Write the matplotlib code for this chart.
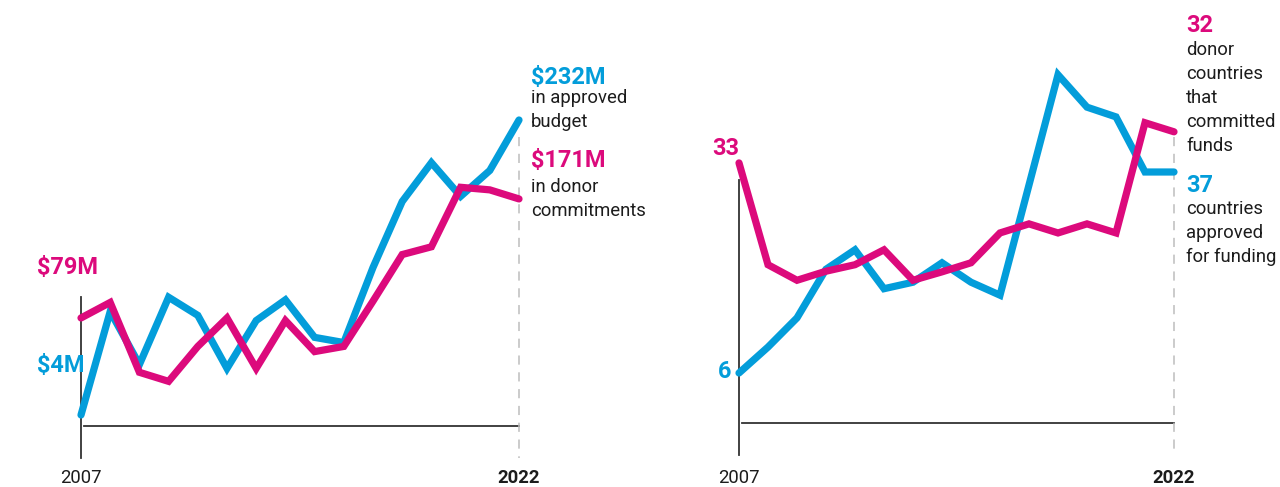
import matplotlib
matplotlib.use("Agg")
import matplotlib.pyplot as plt
from matplotlib.transforms import IdentityTransform

plt.rcParams["font.family"] = ["Roboto", "DejaVu Sans"]

# ---- data -------------------------------------------------------------
years = list(range(2007, 2023))

# left panel: money (US$ millions)
approved_budget = [4, 84, 43, 95, 81, 40, 77, 93, 64, 60, 118, 169, 199, 173, 193, 232]
donor_commitments = [79, 91, 37, 30, 57, 79, 40, 77, 53, 57, 92, 128, 134, 180, 178, 171]

# right panel: number of countries
countries_approved = [6, 10, 14.5, 22, 25, 19, 20, 23, 20, 18, 35, 52, 47, 45.5, 37, 37]
donor_countries = [38.4, 22.7, 20.3, 21.7, 22.7, 25.0, 20.3, 21.6, 23.0, 27.6,
                   29.0, 27.6, 29.0, 27.6, 44.6, 43.2]
donor_countries_first, donor_countries_last = 33, 32

BLUE = "#039DDA"
MAGENTA = "#DC0A7C"
INK = "#1c1c1c"
AXIS = "#333333"
GUIDE = "#bdbdbd"

W, H = 1280, 487
fig = plt.figure(figsize=(W / 100, H / 100), dpi=100)
fig.patch.set_facecolor("white")


def make_axes(x0_px, x1_px, ref_lo, ref_hi, lo_px, hi_px, top_px=20, bot_px=480):
    """Axes spanning x0..x1 pixels, y scaled so ref_lo sits at lo_px and ref_hi at hi_px."""
    k = (lo_px - hi_px) / (ref_hi - ref_lo)
    ax = fig.add_axes([x0_px / W, 1 - bot_px / H, (x1_px - x0_px) / W, (bot_px - top_px) / H])
    ax.set_xlim(years[0], years[-1])
    ax.set_ylim(ref_lo - (bot_px - lo_px) / k, ref_lo + (lo_px - top_px) / k)
    ax.axis("off")
    to_val = lambda px: ref_lo + (lo_px - px) / k
    return ax, to_val


def frame(ax, to_val, vtop, base, vbot, dash_top):
    ax.plot([years[0], years[0]], [to_val(vtop), to_val(vbot)], color=AXIS, lw=1.3,
            clip_on=False, zorder=1)
    ax.plot([years[0] + 0.1, years[-1]], [to_val(base), to_val(base)], color=AXIS, lw=1.3,
            clip_on=False, zorder=1)
    ax.plot([years[-1], years[-1]], [to_val(dash_top), to_val(vbot)], color=GUIDE, lw=1.1,
            dashes=(6, 5), clip_on=False, zorder=1)


def series(ax, vals, color, z):
    ax.plot(years, vals, color=color, lw=5.2, solid_capstyle="round",
            solid_joinstyle="miter", clip_on=False, zorder=z)


def label(x, y, s, color=INK, size=13.35, weight="normal", ha="left"):
    fig.text(x, H - y, s, transform=IdentityTransform(), color=color, fontsize=size,
             fontweight=weight, ha=ha, va="baseline")


BIG = 16.9

# ---- left panel -------------------------------------------------------
axL, valL = make_axes(81, 519, min(approved_budget), max(approved_budget), 415, 120)
frame(axL, valL, 297, 426, 458, 137)
series(axL, approved_budget, BLUE, 3)
series(axL, donor_commitments, MAGENTA, 4)

label(37, 274, f"${donor_commitments[0]}M", MAGENTA, BIG, "bold")
label(37, 372, f"${approved_budget[0]}M", BLUE, BIG, "bold")
label(531, 84, f"${approved_budget[-1]}M", BLUE, BIG, "bold")
for i, line in enumerate(["in approved", "budget"]):
    label(531, 103 + 24 * i, line)
label(531, 167, f"${donor_commitments[-1]}M", MAGENTA, BIG, "bold")
for i, line in enumerate(["in donor", "commitments"]):
    label(531, 192 + 24 * i, line)
label(81, 483, str(years[0]), ha="center")
label(519, 483, str(years[-1]), weight="bold", ha="center")

# ---- right panel ------------------------------------------------------
axR, valR = make_axes(739, 1174, min(countries_approved), countries_approved[-1], 373, 172)
frame(axR, valR, 180, 423, 455, 137)
series(axR, countries_approved, BLUE, 3)
series(axR, donor_countries, MAGENTA, 4)

label(739, 155, str(donor_countries_first), MAGENTA, BIG, "bold", ha="right")
label(731, 378, str(countries_approved[0]), BLUE, BIG, "bold", ha="right")
label(1186, 32, str(donor_countries_last), MAGENTA, BIG, "bold")
for i, line in enumerate(["donor", "countries", "that", "committed", "funds"]):
    label(1186, 55 + 24 * i, line)
label(1186, 192, str(countries_approved[-1]), BLUE, BIG, "bold")
for i, line in enumerate(["countries", "approved", "for funding"]):
    label(1186, 214 + 24 * i, line)
label(739, 483, str(years[0]), ha="center")
label(1174, 483, str(years[-1]), weight="bold", ha="center")

fig.savefig("out.png", dpi=100, facecolor="white")
